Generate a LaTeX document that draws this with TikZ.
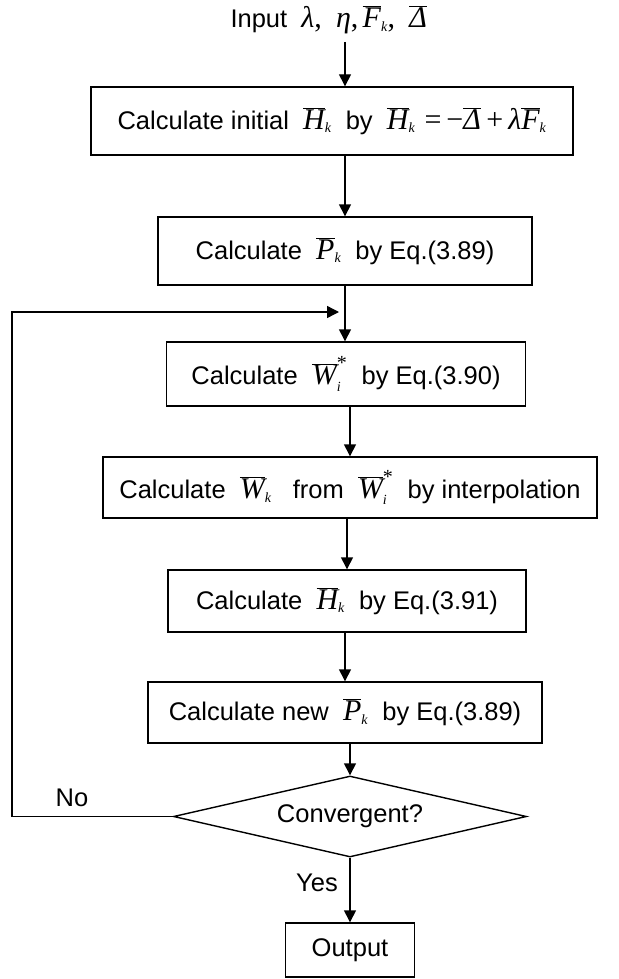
\documentclass[tikz,border=0pt]{standalone}
\usepackage{fontspec}
\setmainfont{Liberation Sans}
\newfontfamily\tnr{Liberation Serif}
\newcommand\ML[1]{{\tnr\itshape\fontsize{30}{30}\selectfont #1}}
\newcommand\MR[1]{{\tnr\fontsize{30}{30}\selectfont #1}}
\newcommand\SubS[1]{\hbox{\tnr\itshape\fontsize{14}{14}\selectfont #1}}
\newcommand\Ov[2]{$\overline{\hbox{\ML{#1}}}_{\SubS{#2}}$}
\newcommand\OvS[2]{$\overline{\hbox{\ML{#1}}}_{\SubS{#2}}^{\hbox{\tnr\fontsize{20}{20}\selectfont *}}$}
\usetikzlibrary{arrows.meta,shapes.geometric}
\begin{document}
\begin{tikzpicture}[x=1pt,y=-1pt,
  font=\fontsize{25.5}{30}\selectfont,
  box/.style={draw,line width=1.4pt,inner sep=0pt,align=center},
  dec/.style={draw,line width=1.4pt,diamond,inner sep=0pt,minimum width=353pt,minimum height=81pt,aspect=4.3},
  arr/.style={line width=1.4pt,-{Triangle[length=12pt,width=12pt]}},
  lbl/.style={inner sep=0pt}]
\useasboundingbox (0,0) rectangle (618,979);
\node[lbl] (in) at (329,20) {Input \ \ML{λ}\MR{,} \ \ML{η}\MR{,}\,\Ov{F}{k}\MR{,} \ \Ov{Δ}{}};
\node[box,minimum width=482pt,minimum height=68pt] (b1) at (332,121)
  {Calculate initial \ \Ov{H}{k} \ by \ \Ov{H}{k}\,\MR{\,=\,−}\Ov{Δ}{}\MR{\,+\,}\ML{λ}\Ov{F}{k}};
\node[box,minimum width=374pt,minimum height=68pt] (b2) at (345,251)
  {Calculate \ \Ov{P}{k} \ by Eq.(3.89)};
\node[box,minimum width=359pt,minimum height=64pt] (b3) at (346,374)
  {Calculate \ \OvS{W}{i} \ by Eq.(3.90)};
\node[box,minimum width=494pt,minimum height=61pt] (b4) at (350,487.5)
  {Calculate \ \Ov{W}{k} \ \ from \ \OvS{W}{i} \ by interpolation};
\node[box,minimum width=358pt,minimum height=62pt] (b5) at (347,601)
  {Calculate \ \Ov{H}{k} \ by Eq.(3.91)};
\node[box,minimum width=394pt,minimum height=61pt] (b6) at (345,712.5)
  {Calculate new \ \Ov{P}{k} \ by Eq.(3.89)};
\node[dec] (d) at (350,816.5) {Convergent?};
\node[box,minimum width=129pt,minimum height=54pt] (out) at (350,950) {Output};
\node[lbl] (no) at (72,798) {No};
\node[lbl] (yes) at (317,883) {Yes};
\coordinate (fb) at (345,312);
\coordinate (lft) at (12,312);
\coordinate (top) at (345,42);
\draw[arr] (top) -- (b1.north -| fb);
\draw[arr] (b1.south -| fb) -- (b2.north -| fb);
\draw[line width=1.4pt] (b2.south -| fb) -- (fb);
\draw[arr] (fb) -- (b3.north -| fb);
\draw[arr] (b3.south -| b4.north) -- (b4.north);
\draw[arr] (b4.south -| b5.north) -- (b5.north);
\draw[arr] (b5.south -| b6.north) -- (b6.north);
\draw[arr] (b6.south -| d.north) -- (d.north);
\draw[arr] (d.south) -- (out.north);
\draw[arr] (d.west) -| (lft) -- ([xshift=-6pt]fb);
\end{tikzpicture}
\end{document}
